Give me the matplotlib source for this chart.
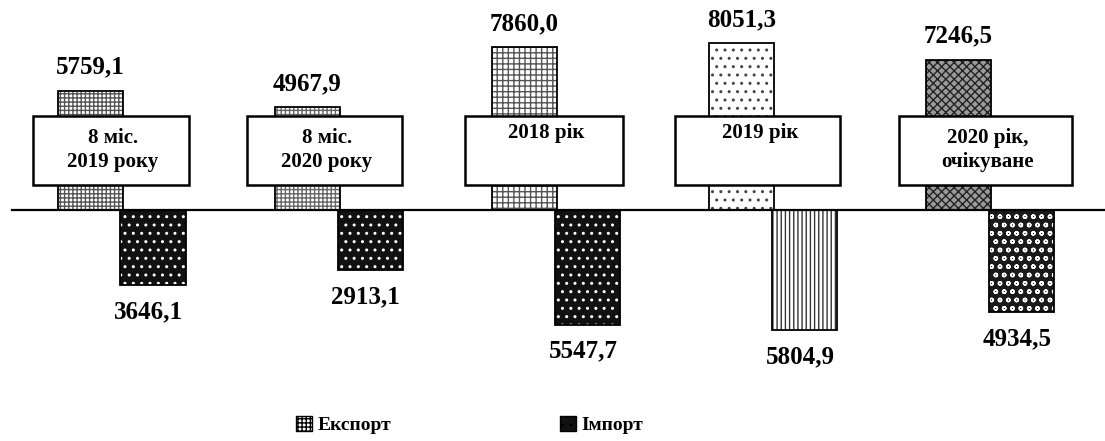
import matplotlib
matplotlib.use("Agg")
from matplotlib import pyplot as plt
from matplotlib.patches import Rectangle

plt.rcParams['font.family'] = ['Liberation Serif', 'DejaVu Serif']
plt.rcParams['hatch.linewidth'] = 1.0

groups = ["8 міс.\n2019 року", "8 міс.\n2020 року", "2018 рік", "2019 рік", "2020 рік,\nочікуване"]
export_vals = [5759.1, 4967.9, 7860.0, 8051.3, 7246.5]
import_vals = [3646.1, 2913.1, 5547.7, 5804.9, 4934.5]
export_lbls = ["5759,1", "4967,9", "7860,0", "8051,3", "7246,5"]
import_lbls = ["3646,1", "2913,1", "5547,7", "5804,9", "4934,5"]

# scan-like textures, one per bar: (face, hatch, hatch colour)
exp_style = [("white", "++++", "#555555"), ("white", "++++", "#666666"),
             ("white", "+++", "#555555"), ("white", "..", "#444444"),
             ("#9a9a9a", "xxxx", "#222222")]
imp_style = [("#111111", "..", "white"), ("#111111", "..", "white"),
             ("#111111", "..", "white"), ("white", "||||", "#333333"),
             ("#1a1a1a", "oo", "white")]

fig = plt.figure(figsize=(11.05, 4.41), dpi=100)
ax = fig.add_axes([0, 0, 1, 1])
ax.set_xlim(-0.56, 4.53)
ax.set_ylim(-11160, 10140)
ax.axis("off")

w = 0.30
off = 0.145
x = list(range(len(groups)))

for i in x:
    fc, h, hc = exp_style[i]
    b = ax.bar(i - off, export_vals[i], width=w, facecolor=fc, edgecolor=hc,
               hatch=h, linewidth=0)
    ax.bar(i - off, export_vals[i], width=w, fill=False, edgecolor="black", linewidth=1.3)
    fc, h, hc = imp_style[i]
    c = ax.bar(i + off, -import_vals[i], width=w, facecolor=fc, edgecolor=hc,
               hatch=h, linewidth=0)
    ax.bar(i + off, -import_vals[i], width=w, fill=False, edgecolor="black", linewidth=1.3)
    if i == 0:
        exp_handle, imp_handle = b, c
    ax.annotate(export_lbls[i], (i - off, export_vals[i]), xytext=(0, 17),
                textcoords="offset points", ha="center", va="center",
                fontsize=18, fontweight="bold")
    ax.annotate(import_lbls[i], (i + off - 0.02, -import_vals[i]), xytext=(0, -19),
                textcoords="offset points", ha="center", va="center",
                fontsize=18, fontweight="bold")

# labelled boxes over the export bars
box_dx = [-0.05, -0.065, -0.055, -0.07, -0.02]
box_w = [0.72, 0.71, 0.73, 0.76, 0.80]
box_bottom, box_top = 1200, 4560
for i in x:
    cx = i + box_dx[i]
    ax.add_patch(Rectangle((cx - box_w[i] / 2, box_bottom), box_w[i], box_top - box_bottom,
                           facecolor="white", edgecolor="black", linewidth=1.8, zorder=5))
    if "\n" in groups[i]:
        ty, va = (box_bottom + box_top) / 2, "center"
    else:
        ty, va = box_top - 350, "top"
    ax.text(cx + 0.01, ty, groups[i], ha="center", va=va, fontsize=15,
            fontweight="bold", linespacing=1.25, zorder=6)

ax.axhline(0, xmin=0.011, xmax=1, color="black", linewidth=1.6, zorder=7)

leg = ax.legend([exp_handle, imp_handle], ["Експорт", "Імпорт"], loc="center",
                bbox_to_anchor=(0.425, 0.036), ncol=2, frameon=False,
                prop={"size": 14, "weight": "bold"}, columnspacing=8.7,
                handlelength=0.8, handleheight=0.8, handletextpad=0.3)
for hd in leg.legend_handles:
    hd.set_linewidth(1.0)
    hd.set_edgecolor("black")

fig.savefig("out.png", dpi=100)
